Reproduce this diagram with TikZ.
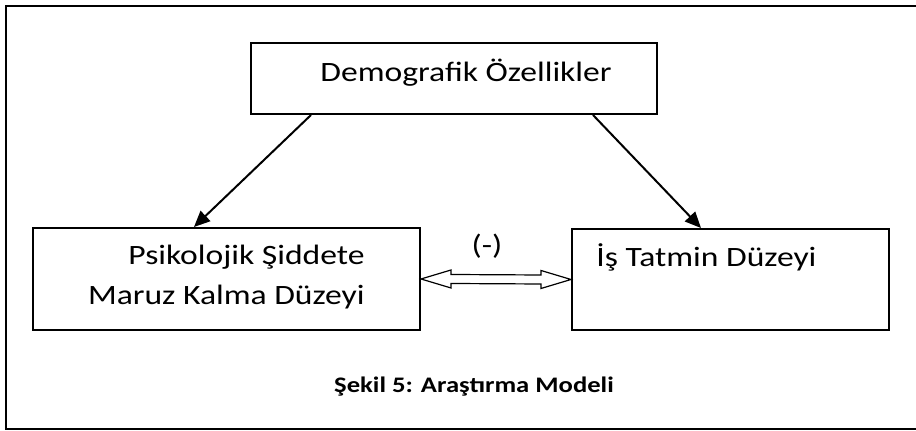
\documentclass[tikz,border=0pt]{standalone}
\usepackage{fontspec}
\setmainfont{Carlito}[FakeStretch=1.2]
\usetikzlibrary{positioning,calc,arrows.meta}

\tikzset{
  boxnode/.style={draw, line width=1pt, rectangle, inner sep=0pt},
  txt/.style={inner sep=0pt, font=\fontsize{14}{20}\selectfont},
  link/.style={line width=1pt, -{Triangle[length=8pt,width=7pt]}},
}

\begin{document}
\begin{tikzpicture}[x=0.5pt, y=-0.5pt]
\useasboundingbox (0,0) rectangle (916,431);
\draw[line width=1pt] (6,6) rectangle (930,429);

\node[boxnode, minimum width=203pt, minimum height=35.5pt] (dem) at (454,78.5) {};
\node[txt, anchor=base west] (demtxt) at (320,82) {Demografik Özellikler};

\node[boxnode, minimum width=193.5pt, minimum height=51pt] (psi) at (226.5,279) {};
\node[txt, anchor=base east, align=right] (psitxt) at (365,305) {Psikolojik Şiddete\\Maruz Kalma Düzeyi};

\node[boxnode, minimum width=158.5pt, minimum height=50.5pt] (isd) at (730.5,279.5) {};
\node[txt, anchor=base west] (isdtxt) at (596,267) {İş Tatmin Düzeyi};

\draw[link] ($(dem.south west)+(61,0)$) -- ($(psi.north west)+(162,0)$);
\draw[link] ($(dem.south east)+(-65,0)$) -- ($(isd.north west)+(130,0)$);

% double arrow between the boxes
\draw[line width=0.6pt] (psi.east) -- ++(30,-9) -- ++(0,4.5)
  -- ($(isd.west)+(-30,-4.5)$) -- ++(0,-4.5) -- (isd.west) -- ++(-30,9) -- ++(0,-4.5)
  -- ($(psi.east)+(30,4.5)$) -- ++(0,4.5) -- cycle;
\node[txt] (neg) at (487,246) {(-)};

\node[inner sep=0pt, anchor=base, font=\fontsize{11.1}{13}\selectfont\bfseries] (cap) at (474,393) {Şekil 5: Araştırma Modeli};
\end{tikzpicture}
\end{document}
